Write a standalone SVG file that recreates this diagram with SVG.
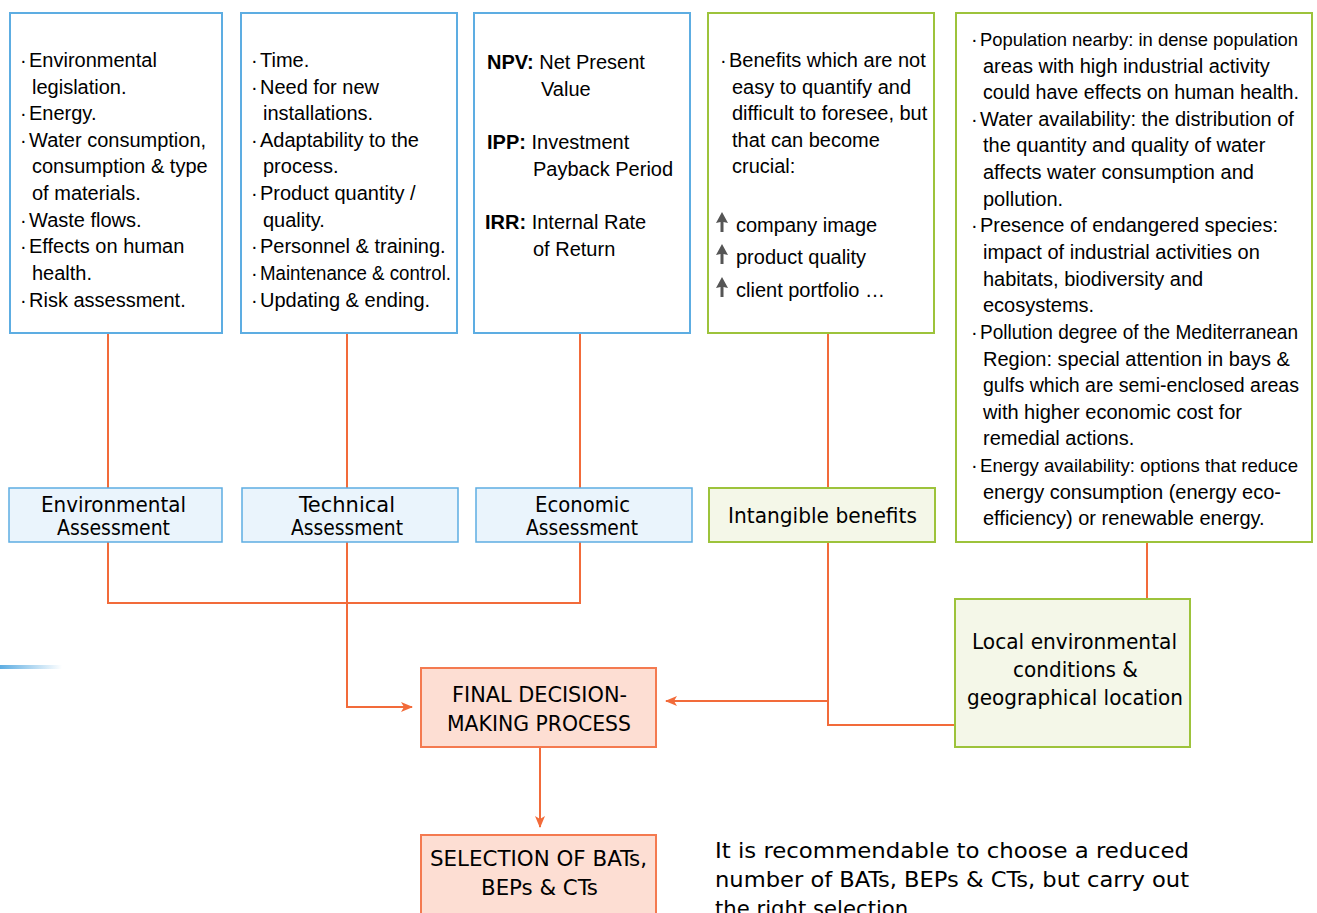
<svg xmlns="http://www.w3.org/2000/svg" width="1317" height="913" viewBox="0 0 1317 913">
<style>
.bb{fill:#fff;stroke:#5DADE2;stroke-width:2}
.gb{fill:#fff;stroke:#9DC33B;stroke-width:2}
.bm{fill:#EAF4FC;stroke:#5DADE2;stroke-width:1.5}
.gm{fill:#F4F7E8;stroke:#9DC33B;stroke-width:2}
.om{fill:#FDDED3;stroke:#F47A50;stroke-width:2}
.t{font-family:"Liberation Sans",Arial,sans-serif;font-size:20px;fill:#000}
.tb{font-weight:bold}
.sm{font-size:18.5px}
.c{font-family:"DejaVu Sans Condensed","DejaVu Sans",sans-serif;font-stretch:condensed;font-size:21px;fill:#000}
.con{fill:none;stroke:#F26B3A;stroke-width:2}
.ua{fill:#555}
</style>
<defs>
<marker id="ah" viewBox="0 0 12 10" refX="11" refY="5" markerWidth="12" markerHeight="10" markerUnits="userSpaceOnUse" orient="auto">
<path d="M0,0 L12,5 L0,10 L3,5 Z" fill="#F26B3A"/>
</marker>
<linearGradient id="lg" x1="0" x2="1" y1="0" y2="0">
<stop offset="0" stop-color="#5DADE2"/>
<stop offset="1" stop-color="#5DADE2" stop-opacity="0"/>
</linearGradient>
</defs>
<rect x="0" y="665" width="62" height="4" fill="url(#lg)"/>

<g id="connectors">
<path class="con" d="M108,333 V488"/>
<path class="con" d="M347,333 V488"/>
<path class="con" d="M580,333 V488"/>
<path class="con" d="M828,333 V488"/>
<path class="con" d="M1147,542 V599"/>
<path class="con" d="M108,542 V603 H580 V542"/>
<path class="con" d="M347,542 V707 H412" marker-end="url(#ah)"/>
<path class="con" d="M828,542 V725 H955"/>
<path class="con" d="M828,701 H666" marker-end="url(#ah)"/>
<path class="con" d="M540,747 V827" marker-end="url(#ah)"/>
</g>

<g id="env-criteria">
<rect class="bb" x="10" y="13" width="212" height="320"/>
<g class="t">
<text x="20" y="67">·</text><text x="29" y="67">Environmental</text>
<text x="32" y="94">legislation.</text>
<text x="20" y="120">·</text><text x="29" y="120">Energy.</text>
<text x="20" y="147">·</text><text x="29" y="147">Water consumption,</text>
<text x="32" y="173">consumption &amp; type</text>
<text x="32" y="200">of materials.</text>
<text x="20" y="227">·</text><text x="29" y="227">Waste flows.</text>
<text x="20" y="253">·</text><text x="29" y="253">Effects on human</text>
<text x="32" y="280">health.</text>
<text x="20" y="307">·</text><text x="29" y="307">Risk assessment.</text>
</g>
</g>

<g id="tech-criteria">
<rect class="bb" x="241" y="13" width="216" height="320"/>
<g class="t">
<text x="251" y="67">·</text><text x="260" y="67">Time.</text>
<text x="251" y="94">·</text><text x="260" y="94">Need for new</text>
<text x="263" y="120">installations.</text>
<text x="251" y="147">·</text><text x="260" y="147">Adaptability to the</text>
<text x="263" y="173">process.</text>
<text x="251" y="200">·</text><text x="260" y="200">Product quantity /</text>
<text x="263" y="227">quality.</text>
<text x="251" y="253">·</text><text x="260" y="253">Personnel &amp; training.</text>
<text x="251" y="280">·</text><text x="260" y="280" textLength="191" lengthAdjust="spacingAndGlyphs">Maintenance &amp; control.</text>
<text x="251" y="307">·</text><text x="260" y="307">Updating &amp; ending.</text>
</g>
</g>

<g id="econ-criteria">
<rect class="bb" x="474" y="13" width="216" height="320"/>
<g class="t">
<text x="487" y="69"><tspan class="tb">NPV:</tspan> Net Present</text>
<text x="541" y="96">Value</text>
<text x="487" y="149"><tspan class="tb">IPP:</tspan> Investment</text>
<text x="533" y="176">Payback Period</text>
<text x="485" y="229"><tspan class="tb">IRR:</tspan> Internal Rate</text>
<text x="533" y="256">of Return</text>
</g>
</g>

<g id="intangible-criteria">
<rect class="gb" x="708" y="13" width="226" height="320"/>
<g class="t">
<text x="720" y="67">·</text><text x="729" y="67">Benefits which are not</text>
<text x="732" y="94">easy to quantify and</text>
<text x="732" y="120">difficult to foresee, but</text>
<text x="732" y="147">that can become</text>
<text x="732" y="173">crucial:</text>
<text x="736" y="232">company image</text>
<text x="736" y="264">product quality</text>
<text x="736" y="297">client portfolio …</text>
</g>
<path class="ua" d="M722,212 L728,223 L723.5,222 L723.5,232 L720.5,232 L720.5,222 L716,223 Z"/>
<path class="ua" d="M722,244 L728,255 L723.5,254 L723.5,264 L720.5,264 L720.5,254 L716,255 Z"/>
<path class="ua" d="M722,277 L728,288 L723.5,287 L723.5,297 L720.5,297 L720.5,287 L716,288 Z"/>
</g>

<g id="local-criteria">
<rect class="gb" x="956" y="13" width="356" height="529"/>
<g class="t">
<text x="971" y="46">·</text><text class="sm" x="980" y="46" textLength="318" lengthAdjust="spacingAndGlyphs">Population nearby: in dense population</text>
<text x="983" y="73">areas with high industrial activity</text>
<text x="983" y="99" textLength="316" lengthAdjust="spacingAndGlyphs">could have effects on human health.</text>
<text x="971" y="126">·</text><text x="980" y="126">Water availability: the distribution of</text>
<text x="983" y="152">the quantity and quality of water</text>
<text x="983" y="179">affects water consumption and</text>
<text x="983" y="206">pollution.</text>
<text x="971" y="232">·</text><text x="980" y="232">Presence of endangered species:</text>
<text x="983" y="259">impact of industrial activities on</text>
<text x="983" y="286">habitats, biodiversity and</text>
<text x="983" y="312">ecosystems.</text>
<text x="971" y="339">·</text><text x="980" y="339" textLength="318" lengthAdjust="spacingAndGlyphs">Pollution degree of the Mediterranean</text>
<text x="983" y="366">Region: special attention in bays &amp;</text>
<text x="983" y="392" textLength="316" lengthAdjust="spacingAndGlyphs">gulfs which are semi-enclosed areas</text>
<text x="983" y="419">with higher economic cost for</text>
<text x="983" y="445">remedial actions.</text>
<text x="971" y="472">·</text><text class="sm" x="980" y="472" textLength="318" lengthAdjust="spacingAndGlyphs">Energy availability: options that reduce</text>
<text x="983" y="499">energy consumption (energy eco-</text>
<text x="983" y="525">efficiency) or renewable energy.</text>
</g>
</g>

<g id="env-assessment">
<rect class="bm" x="9" y="488" width="213" height="54"/>
<text class="c" x="41" y="512" textLength="145" lengthAdjust="spacingAndGlyphs">Environmental</text>
<text class="c" x="57" y="535" textLength="113" lengthAdjust="spacingAndGlyphs">Assessment</text>
</g>
<g id="tech-assessment">
<rect class="bm" x="242" y="488" width="216" height="54"/>
<text class="c" x="299" y="512" textLength="96" lengthAdjust="spacingAndGlyphs">Technical</text>
<text class="c" x="291" y="535" textLength="112" lengthAdjust="spacingAndGlyphs">Assessment</text>
</g>
<g id="econ-assessment">
<rect class="bm" x="476" y="488" width="216" height="54"/>
<text class="c" x="535" y="512" textLength="95" lengthAdjust="spacingAndGlyphs">Economic</text>
<text class="c" x="526" y="535" textLength="112" lengthAdjust="spacingAndGlyphs">Assessment</text>
</g>
<g id="intangible-benefits">
<rect class="gm" x="709" y="488" width="226" height="54"/>
<text class="c" x="728" y="523" textLength="189" lengthAdjust="spacingAndGlyphs">Intangible benefits</text>
</g>
<g id="local-conditions">
<rect class="gm" x="955" y="599" width="235" height="148"/>
<text class="c" x="972" y="649" textLength="205" lengthAdjust="spacingAndGlyphs">Local environmental</text>
<text class="c" x="1013" y="677" textLength="125" lengthAdjust="spacingAndGlyphs">conditions &amp;</text>
<text class="c" x="967" y="705" textLength="216" lengthAdjust="spacingAndGlyphs">geographical location</text>
</g>
<g id="final-decision">
<rect class="om" x="421" y="668" width="235" height="79"/>
<text class="c" x="452" y="702" textLength="175" lengthAdjust="spacingAndGlyphs">FINAL DECISION-</text>
<text class="c" x="447" y="731" textLength="184" lengthAdjust="spacingAndGlyphs">MAKING PROCESS</text>
</g>
<g id="selection">
<rect class="om" x="421" y="835" width="235" height="90"/>
<text class="c" x="430" y="866" textLength="217" lengthAdjust="spacingAndGlyphs">SELECTION OF BATs,</text>
<text class="c" x="481" y="895" textLength="117" lengthAdjust="spacingAndGlyphs">BEPs &amp; CTs</text>
</g>
<g id="note">
<text class="c" x="715" y="858" textLength="474" lengthAdjust="spacingAndGlyphs" style="font-size:22px">It is recommendable to choose a reduced</text>
<text class="c" x="715" y="887" textLength="474" lengthAdjust="spacingAndGlyphs" style="font-size:22px">number of BATs, BEPs &amp; CTs, but carry out</text>
<text class="c" x="715" y="916" textLength="200" lengthAdjust="spacingAndGlyphs" style="font-size:22px">the right selection.</text>
</g>
</svg>
